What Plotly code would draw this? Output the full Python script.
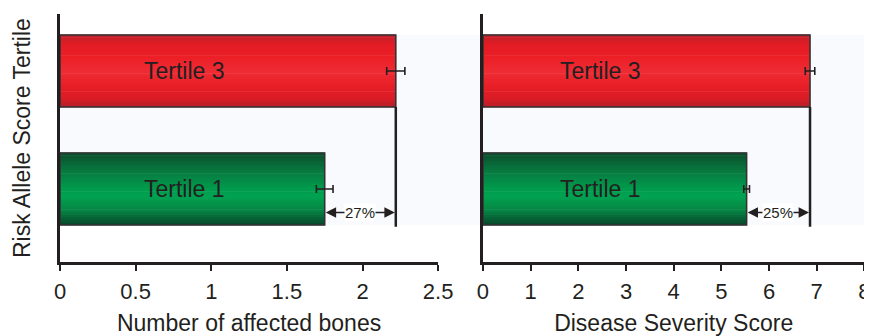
import plotly.graph_objects as go

categories = ["Tertile 1", "Tertile 3"]
bones_values = [1.75, 2.22]
bones_err = [0.055, 0.06]
severity_values = [5.53, 6.86]
severity_err = [0.06, 0.1]
bones_pct = "27%"
severity_pct = "25%"
bones_ticks = [0, 0.5, 1, 1.5, 2, 2.5]
bones_ticklabels = ["0", "0.5", "1", "1.5", "2", "2.5"]
severity_ticks = [0, 1, 2, 3, 4, 5, 6, 7, 8]
severity_ticklabels = ["0", "1", "2", "3", "4", "5", "6", "7", "8"]

INK = "#231f20"
FONT = "Liberation Sans, Arial, sans-serif"
BAR_W = 0.61
N_STRIPES = 28

# gradient stops, top (0) -> bottom (1)
red_stops = [(0.0, "#bf202b"), (0.12, "#e21c25"), (0.3, "#ec1e26"), (0.5, "#ee2c34"),
             (0.7, "#e91f27"), (0.88, "#d91c25"), (1.0, "#b51e29")]
green_stops = [(0.0, "#0a4d2b"), (0.25, "#087a40"), (0.5, "#009b4c"), (0.6, "#00a351"),
               (0.8, "#068343"), (1.0, "#08442a")]


def hex2rgb(h):
    h = h.lstrip("#")
    return [int(h[i:i + 2], 16) for i in (0, 2, 4)]


def grad_color(stops, t):
    for (t0, c0), (t1, c1) in zip(stops[:-1], stops[1:]):
        if t0 <= t <= t1:
            f = (t - t0) / (t1 - t0) if t1 > t0 else 0
            a, b = hex2rgb(c0), hex2rgb(c1)
            return "rgb(%d,%d,%d)" % tuple(round(a[i] + (b[i] - a[i]) * f) for i in range(3))
    return stops[-1][1]


fig = go.Figure()


def add_bars(values, errs, xa, ya):
    step = BAR_W / N_STRIPES
    for i, cat in enumerate(categories):
        stops = green_stops if i == 0 else red_stops
        for j in range(N_STRIPES):
            t = 1 - (j + 0.5) / N_STRIPES
            fig.add_trace(go.Bar(
                x=[values[i]], y=[cat], orientation="h",
                width=step * 1.25, offset=-BAR_W / 2 + j * step - step * 0.1,
                xaxis=xa, yaxis=ya,
                marker=dict(color=grad_color(stops, t), line=dict(width=0)),
                hoverinfo="skip", showlegend=False,
            ))
        fig.add_trace(go.Bar(
            x=[values[i]], y=[cat], orientation="h", width=BAR_W,
            xaxis=xa, yaxis=ya,
            marker=dict(color="rgba(0,0,0,0)", line=dict(color="#333333", width=1.6)),
            error_x=dict(type="data", array=[errs[i]], color=INK, thickness=1.6, width=4),
            hoverinfo="skip", showlegend=False,
        ))


add_bars(bones_values, bones_err, "x", "y")
add_bars(severity_values, severity_err, "x2", "y2")

shapes = [dict(type="rect", xref="paper", yref="y", x0=0, x1=1.01,
               y0=-BAR_W / 2, y1=1 + BAR_W / 2, fillcolor="#f8fafe",
               line=dict(width=0), layer="below")]
annotations = []


def panel_extras(values, pct, xref, yref, domref, text_center):
    shapes.append(dict(type="line", xref=xref, yref=yref, x0=values[1], x1=values[1],
                       y0=1 - BAR_W / 2, y1=-0.32, line=dict(color=INK, width=2.5)))
    mid = (values[0] + values[1]) / 2
    for tgt in (values[0], values[1]):
        annotations.append(dict(x=tgt, y=-0.2, ax=mid, ay=-0.2, xref=xref, yref=yref,
                                axref=xref, ayref=yref, text="", showarrow=True,
                                arrowhead=2, arrowsize=1.3, arrowwidth=1.6, arrowcolor=INK,
                                standoff=1))
    annotations.append(dict(x=mid, y=-0.2, xref=xref, yref=yref, text=pct, showarrow=False,
                            bgcolor="white", font=dict(size=15, color=INK, family=FONT),
                            borderpad=0))
    for i, cat in enumerate(categories):
        annotations.append(dict(x=text_center, y=cat, xref=domref, yref=yref, text=cat,
                                showarrow=False, xanchor="center",
                                font=dict(size=23, color=INK, family=FONT)))


panel_extras(bones_values, bones_pct, "x", "y", "x domain", 0.33)
panel_extras(severity_values, severity_pct, "x2", "y2", "x2 domain", 0.307)

annotations.append(dict(x=-0.047, y=0.5, xref="paper", yref="paper", xanchor="center",
                        yanchor="middle",
                        text="Risk Allele Score Tertile", textangle=-90, showarrow=False,
                        font=dict(size=23, color=INK, family=FONT)))

axis_common = dict(showline=True, linecolor=INK, linewidth=2.5, showgrid=False,
                   zeroline=False, ticks="outside", ticklen=6, tickwidth=2, tickcolor=INK,
                   tickfont=dict(size=22, color=INK, family=FONT), fixedrange=True,
                   automargin=False, ticklabelstandoff=2, ticklabeloverflow="allow")
yaxis_common = dict(showline=True, linecolor=INK, linewidth=2.5, showgrid=False,
                    zeroline=False, showticklabels=False, ticks="", automargin=False,
                    range=[-0.619, 1.483], categoryorder="array", categoryarray=categories)

# page body has an 8px margin, so the figure is sized to fit the 872x336 window
fig.update_layout(
    width=864, height=328, barmode="overlay",
    margin=dict(l=52, r=4, t=6, b=74, autoexpand=False),
    paper_bgcolor="white", plot_bgcolor="white",
    font=dict(family=FONT, color=INK),
    xaxis=dict(domain=[0, 0.468], range=[0, 2.5], tickvals=bones_ticks,
               ticktext=bones_ticklabels,
               title=dict(text="Number of affected bones", font=dict(size=23, color=INK),
                          standoff=15),
               **axis_common),
    xaxis2=dict(domain=[0.5235, 0.9955], range=[0, 8], tickvals=severity_ticks,
                ticktext=severity_ticklabels,
                title=dict(text="Disease Severity Score", font=dict(size=23, color=INK),
                           standoff=15),
                **axis_common),
    yaxis=dict(anchor="x", **yaxis_common),
    yaxis2=dict(anchor="x2", **yaxis_common),
    shapes=shapes, annotations=annotations,
)

fig.write_html("out.html")
